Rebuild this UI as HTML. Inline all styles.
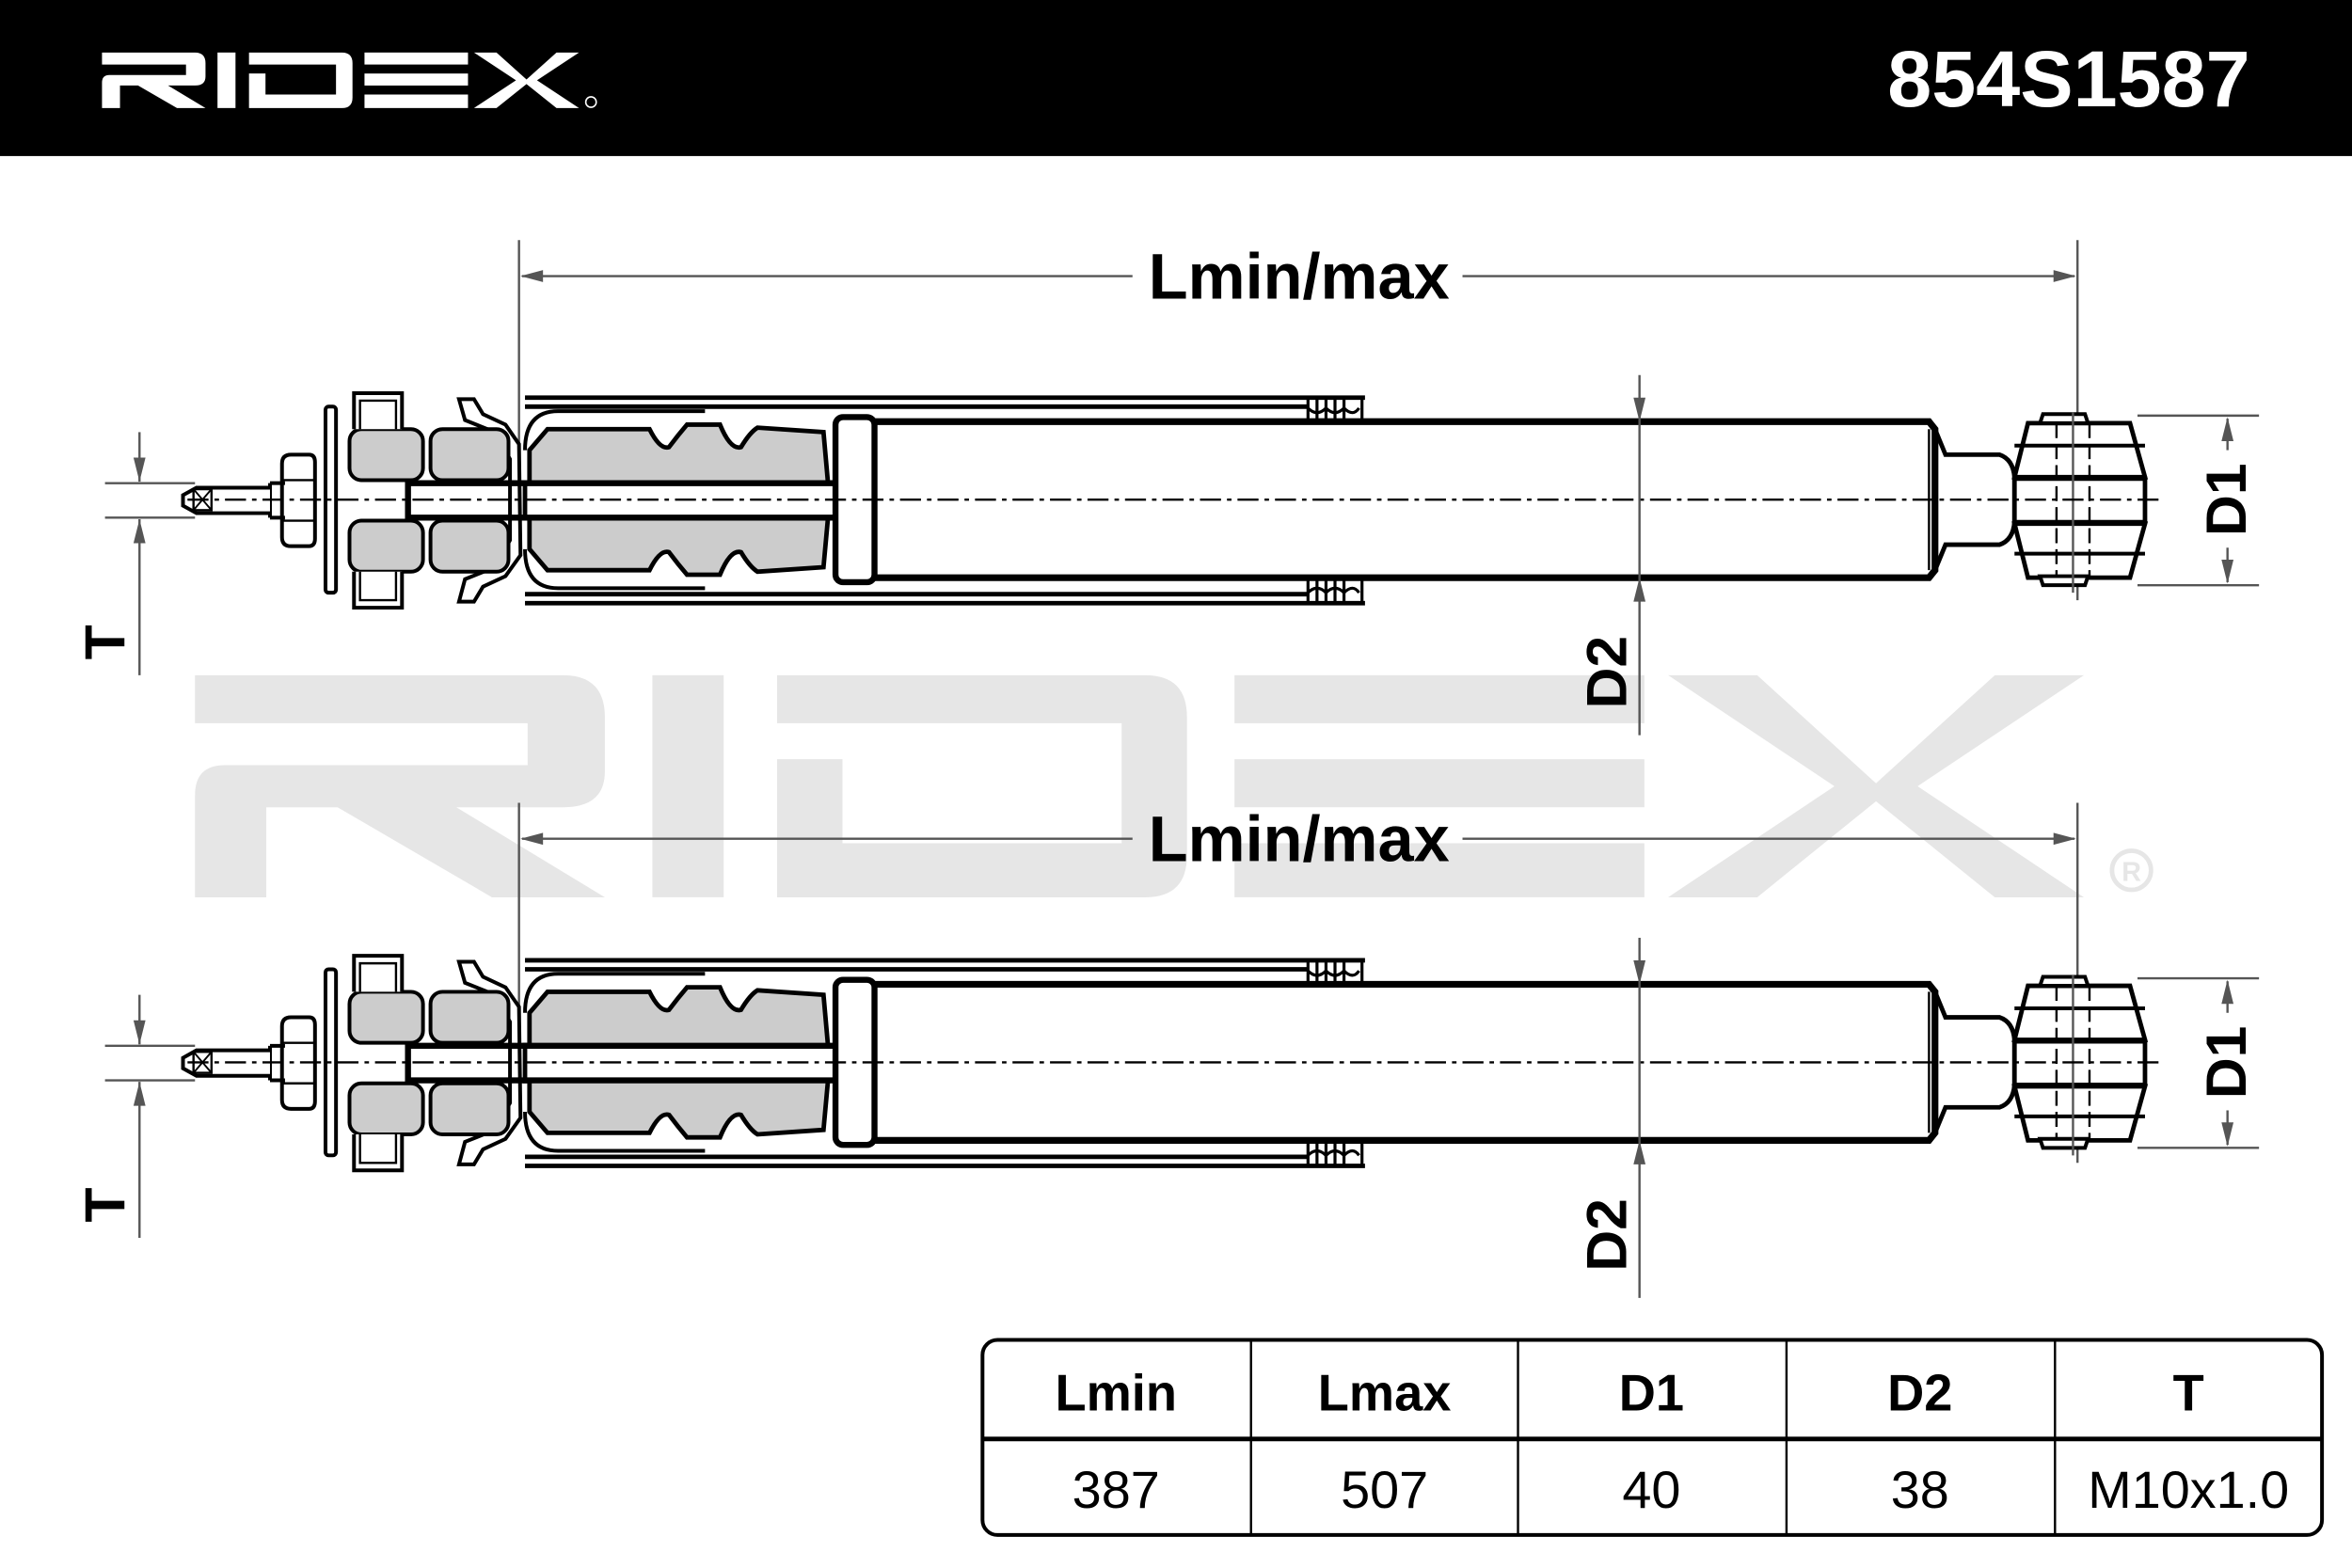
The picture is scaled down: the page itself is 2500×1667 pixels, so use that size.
<!DOCTYPE html>
<html><head><meta charset="utf-8"><style>
html,body{margin:0;padding:0;background:#fff;width:2500px;height:1667px;overflow:hidden}
svg{display:block}
</style></head><body>
<svg width="2500" height="1667" viewBox="0 0 1568 1045" preserveAspectRatio="none" xmlns="http://www.w3.org/2000/svg" font-family="Liberation Sans, sans-serif">
<defs>
<g id="logo">
<path d="M68,35 H130 Q137,35 137,42 V51 Q137,57 130,57 H112 L137,72 H118 L92,57 H80 V72 H68 V55 Q68,50 73,50 H124 V43 H68 Z"/>
<rect x="145" y="35" width="12" height="37"/>
<path d="M166,35 H228 Q235,35 235,42 V65 Q235,72 228,72 H166 V49 H177 V63 H224 V43 H166 Z"/>
<rect x="243" y="35" width="69" height="8"/><rect x="243" y="49" width="69" height="8"/><rect x="243" y="63" width="69" height="9"/>
<path d="M316,35 H331 L351,53 L371,35 H386 L358,53.5 L386,72 H371 L351,56 L331,72 H316 L344,53.5 Z"/>
</g>
<g id="shock" stroke="#000" fill="none">
<line x1="346" y1="160" x2="346" y2="330" stroke="#555" stroke-width="1.5"/>
<line x1="1385" y1="160" x2="1385" y2="400" stroke="#555" stroke-width="1.5"/>
<line x1="348" y1="184" x2="755" y2="184" stroke="#555" stroke-width="1.5"/>
<line x1="975" y1="184" x2="1383" y2="184" stroke="#555" stroke-width="1.5"/>
<path d="M347,184 L362,180 L362,188 Z M1384,184 L1369,180 L1369,188 Z" fill="#555" stroke="none"/>
<text x="866" y="199" font-size="43" font-weight="bold" fill="#000" stroke="none" text-anchor="middle">Lmin/max</text>
<path d="M350,265 H910 M350,271 H872 M350,396 H872 M350,402 H910" stroke-width="3"/>
<path d="M872,265 V280 M878,265 V280 M884,265 V280 M890,265 V280 M896,265 V280 M908,265 V281 M872,387 V402 M878,387 V402 M884,387 V402 M890,387 V402 M896,387 V402 M908,386 V402" stroke-width="2"/>
<path d="M872,272 Q878,278 884,272 Q890,278 896,272 Q902,278 906,272 M872,395 Q878,389 884,395 Q890,389 896,395 Q902,389 906,395" stroke-width="2"/>
<path d="M306,266 H316 L322,276 L337,283 L346,296 L347,370 L337,384 L322,391 L316,401 H306 L310,386 L330,378 L340,360 V306 L330,288 L310,280 Z" fill="#fff" stroke-width="2.5"/>
<path d="M350,300 Q350,274 372,274 H470 M350,366 Q350,392 372,392 H470" stroke-width="2.5"/>
<path d="M353,300 L365,286 H433 Q440,300 446,298 Q452,290 458,283 H480 Q487,300 494,298 Q500,288 505,285 L549,288 L552,322 H353 Z" fill="#ccc" stroke-width="3"/>
<path d="M353,366 L365,380 H433 Q440,366 446,368 Q452,376 458,383 H480 Q487,366 494,368 Q500,378 505,381 L549,378 L552,345 H353 Z" fill="#ccc" stroke-width="3"/>
<path d="M272,322 H556 M272,345 H556" stroke-width="4"/>
<line x1="350" y1="320" x2="350" y2="347" stroke-width="3"/>
<line x1="272" y1="318" x2="272" y2="349" stroke-width="4"/>
<rect x="233" y="286" width="49" height="34" rx="8" fill="#ccc" stroke-width="2.5"/>
<rect x="287" y="286" width="52" height="34" rx="8" fill="#ccc" stroke-width="2.5"/>
<rect x="233" y="347" width="49" height="34" rx="8" fill="#ccc" stroke-width="2.5"/>
<rect x="287" y="347" width="52" height="34" rx="8" fill="#ccc" stroke-width="2.5"/>
<path d="M236,286 V262 H268 V286 M236,381 V405 H268 V381" stroke-width="2.5" fill="#fff"/>
<path d="M240,286 V267 H264 V286 M240,381 V400 H264 V381" stroke-width="1.5"/>
<rect x="217" y="271" width="7" height="124" rx="2" stroke-width="2.5" fill="#fff"/>
<path d="M194,303 H206 Q210,303 210,308 V359 Q210,364 206,364 H194 Q188,364 188,358 V309 Q188,303 194,303 Z" fill="#fff" stroke-width="2.5"/>
<line x1="188" y1="320" x2="210" y2="320" stroke-width="1.5"/>
<line x1="188" y1="347" x2="210" y2="347" stroke-width="1.5"/>
<path d="M180,322 H190 M180,345 H190 M180,322 V345" stroke-width="2.5"/>
<path d="M180,325 H131 L122,330 V337 L131,342 H180" stroke-width="2.5" fill="#fff"/>
<rect x="129" y="326" width="12" height="14" stroke-width="1.5"/>
<path d="M129,326 L141,340 M141,326 L129,340" stroke-width="1.2"/>
<rect x="557" y="278" width="26" height="110" rx="5" fill="#fff" stroke-width="4"/>
<path d="M583,281 H1286 L1290,286 V380 L1286,385 H583" stroke-width="4.5"/>
<line x1="1286" y1="286" x2="1286" y2="380" stroke-width="1.5"/>
<path d="M1290,286 L1297,303 H1333 Q1342,306 1343,318 V348 Q1342,360 1333,363 H1297 L1290,380" stroke-width="3"/>
<path d="M1352,282 H1420 L1430,318 H1343 Z M1343,319 H1430 V348 H1343 Z M1343,349 H1430 L1420,385 H1352 Z" fill="#fff" stroke-width="3"/>
<path d="M1343,297 H1430 M1343,369 H1430" stroke-width="2.5"/>
<path d="M1362,276 H1390 L1392,282 H1360 Z M1362,390 H1390 L1392,384 H1360 Z" fill="#fff" stroke-width="2.5"/>
<path d="M1371,282 V385 M1393,282 V385" stroke-width="1.5" stroke-dasharray="10,4"/>
<line x1="1382" y1="275" x2="1382" y2="395" stroke="#555" stroke-width="1.5"/>
<line x1="125" y1="333" x2="1440" y2="333" stroke-width="1.5" stroke-dasharray="14,4,3,4"/>
<line x1="1093" y1="250" x2="1093" y2="490" stroke="#555" stroke-width="1.5"/>
<path d="M1093,281 L1089,265 L1097,265 Z M1093,385 L1089,401 L1097,401 Z" fill="#555" stroke="none"/>
<text transform="translate(1084,448) rotate(-90)" font-size="38" font-weight="bold" fill="#000" stroke="none" text-anchor="middle">D2</text>
<path d="M1425,277 H1506 M1425,390 H1506" stroke="#555" stroke-width="1.5"/>
<line x1="1485" y1="279" x2="1485" y2="300" stroke="#555" stroke-width="1.5"/>
<line x1="1485" y1="365" x2="1485" y2="388" stroke="#555" stroke-width="1.5"/>
<path d="M1485,278 L1481,294 L1489,294 Z M1485,389 L1481,373 L1489,373 Z" fill="#555" stroke="none"/>
<text transform="translate(1497,333) rotate(-90)" font-size="38" font-weight="bold" fill="#000" stroke="none" text-anchor="middle">D1</text>
<path d="M70,322 H130 M70,345 H130" stroke="#555" stroke-width="1.5"/>
<line x1="93" y1="288" x2="93" y2="321" stroke="#555" stroke-width="1.5"/>
<line x1="93" y1="346" x2="93" y2="450" stroke="#555" stroke-width="1.5"/>
<path d="M93,321 L89,305 L97,305 Z M93,346 L89,362 L97,362 Z" fill="#555" stroke="none"/>
<text transform="translate(83,428) rotate(-90)" font-size="38" font-weight="bold" fill="#000" stroke="none" text-anchor="middle">T</text>
</g>
</defs>
<rect width="1568" height="1045" fill="#fff"/>
<g fill="#e6e6e6" transform="translate(130,450) scale(3.96,4) translate(-68,-35)"><use href="#logo"/></g>
<circle cx="1421" cy="580" r="13" fill="none" stroke="#e6e6e6" stroke-width="3"/>
<text x="1421" y="587" font-size="18" font-weight="bold" fill="#e6e6e6" text-anchor="middle">R</text>
<rect x="0" y="0" width="1568" height="104" fill="#000"/>
<g fill="#fff"><use href="#logo"/></g>
<circle cx="394" cy="68" r="3.5" fill="none" stroke="#fff" stroke-width="1"/>
<text x="1500" y="71" font-size="53" font-weight="bold" fill="#fff" text-anchor="end">854S1587</text>
<use href="#shock"/>
<use href="#shock" transform="translate(0,375)"/>
<rect x="655" y="893" width="893" height="130" rx="10" fill="#fff" stroke="#000" stroke-width="2.5"/>
<line x1="655" y1="959" x2="1548" y2="959" stroke="#000" stroke-width="3"/>
<path d="M834,893 V1023 M1012,893 V1023 M1191,893 V1023 M1370,893 V1023" stroke="#000" stroke-width="1.5"/>
<g font-size="34" font-weight="bold" text-anchor="middle" fill="#000">
<text x="744" y="940">Lmin</text><text x="923" y="940">Lmax</text><text x="1101" y="940">D1</text><text x="1280" y="940">D2</text><text x="1459" y="940">T</text>
</g>
<g font-size="35" text-anchor="middle" fill="#000">
<text x="744" y="1005">387</text><text x="923" y="1005">507</text><text x="1101" y="1005">40</text><text x="1280" y="1005">38</text><text x="1459" y="1005">M10x1.0</text>
</g>
</svg>
</body></html>
